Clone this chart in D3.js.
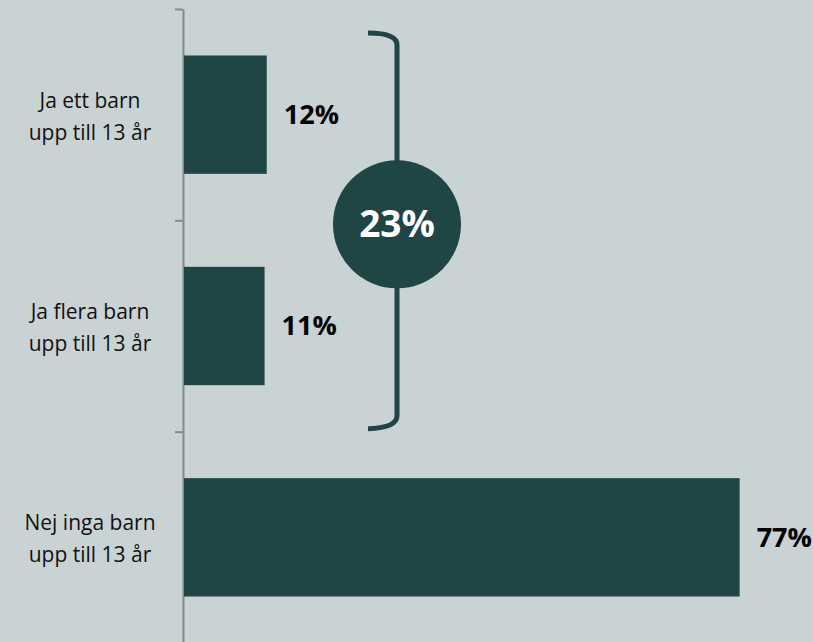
<!DOCTYPE html>
<html>
<head>
<meta charset="utf-8">
<script src="https://cdn.jsdelivr.net/npm/d3@7"></script>
<style>
  html, body { margin: 0; padding: 0; background: #c9d3d3; }
  svg { display: block; }
  .cat { font-family: "Open Sans", sans-serif; font-size: 21px; fill: #111; }
  .val { font-family: "Open Sans", sans-serif; font-size: 27px; font-weight: bold; fill: #000; }
  .sum { font-family: "Open Sans", sans-serif; font-size: 37px; font-weight: bold; fill: #fff; }
</style>
</head>
<body>
<div id="chart"></div>
<script>
// data
const categories = [
  ['Ja ett barn', 'upp till 13 år'],
  ['Ja flera barn', 'upp till 13 år'],
  ['Nej inga barn', 'upp till 13 år']
];
const values = [11.6, 11.3, 77.1];
const groupedIdx = [0, 1]; // bracketed "ja" answers

const width = 813, height = 642;
const barColor = '#1f4644';

const svg = d3.select('#chart').append('svg')
  .attr('width', width)
  .attr('height', height);

svg.append('rect').attr('width', width).attr('height', height).attr('fill', '#c9d3d3');

// scales
const x = d3.scaleLinear().domain([0, 100]).range([183, 905]);
const y = d3.scaleBand()
  .domain(d3.range(categories.length))
  .range([9, 643])
  .paddingInner(0.44)
  .paddingOuter(0.22);
const yEdge = d3.scaleLinear().domain([0, categories.length]).range([9, 643]);

// axis, ticks sit on the band boundaries
const axis = svg.append('g')
  .attr('transform', `translate(${x(0)},0)`)
  .call(d3.axisLeft(yEdge).tickValues(d3.range(categories.length + 1)).tickFormat('').tickSize(8).tickSizeOuter(0));
axis.selectAll('path, line').attr('stroke', '#8a8a8a').attr('stroke-width', 2);

// bars
svg.selectAll('.bar')
  .data(values)
  .enter()
  .append('rect')
  .attr('class', 'bar')
  .attr('x', x(0) + 1)
  .attr('y', (d, i) => y(i))
  .attr('width', d => x(d) - x(0) - 1)
  .attr('height', y.bandwidth())
  .attr('fill', barColor);

// value labels
svg.selectAll('.val')
  .data(values)
  .enter()
  .append('text')
  .attr('class', 'val')
  .attr('x', d => x(d) + 17)
  .attr('y', (d, i) => y(i) + y.bandwidth() / 2)
  .attr('dy', '0.35em')
  .text(d => Math.round(d) + '%');

// category labels (two lines each)
const catG = svg.selectAll('.catg')
  .data(categories)
  .enter()
  .append('text')
  .attr('class', 'cat')
  .attr('text-anchor', 'middle')
  .attr('x', 90);
catG.selectAll('tspan')
  .data((d, i) => d.map((line, k) => ({ line, k, i })))
  .enter()
  .append('tspan')
  .attr('x', 90)
  .attr('y', d => y(d.i) + y.bandwidth() / 2 - 7 + d.k * 32)
  .text(d => d.line);

// bracket + circle for the grouped total
const bx = 397;
const bTop = yEdge(0) + 24;
const bBot = yEdge(2) - 4;
const hook = 29;
svg.append('path')
  .attr('d', `M${bx - hook},${bTop} Q${bx},${bTop} ${bx},${bTop + 12} L${bx},${bBot - 12} Q${bx},${bBot} ${bx - hook},${bBot + 1}`)
  .attr('fill', 'none')
  .attr('stroke', barColor)
  .attr('stroke-width', 5);

const cy = (bTop + bBot) / 2 - 6;
svg.append('circle')
  .attr('cx', bx)
  .attr('cy', cy)
  .attr('r', 64)
  .attr('fill', barColor);

const total = d3.sum(groupedIdx, i => values[i]);
svg.append('text')
  .attr('class', 'sum')
  .attr('x', bx)
  .attr('y', cy)
  .attr('dy', '0.35em')
  .attr('text-anchor', 'middle')
  .text(Math.round(total) + '%');
</script>
</body>
</html>
